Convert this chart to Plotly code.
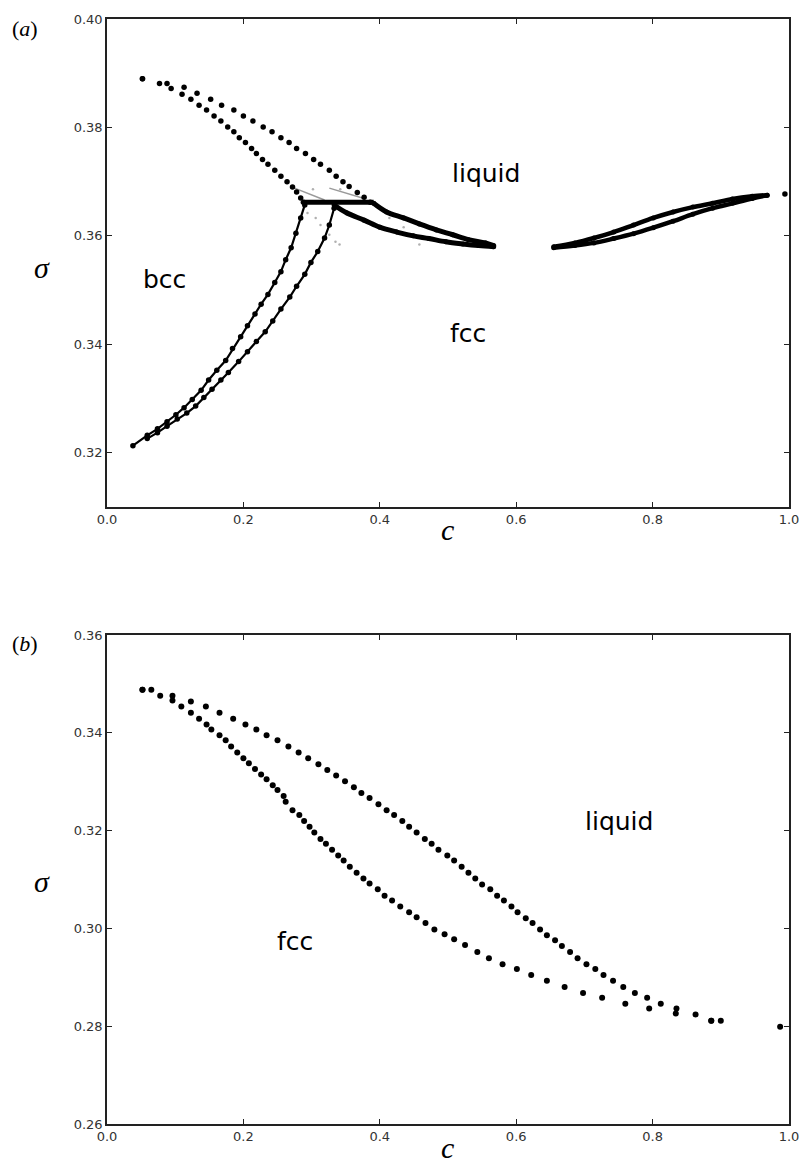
import plotly.graph_objects as go

W, H = 811, 1171
ML, MR, MT, MB = 107, 13, 12, 47

# ---------------- panel (a): bcc / fcc / liquid ----------------
# bcc-liquid coexistence, liquid branch
a_bl_liq_c = [0.052, 0.077, 0.088, 0.113, 0.132, 0.152, 0.168, 0.186, 0.200, 0.214, 0.229,
              0.242, 0.255, 0.267, 0.278, 0.291, 0.303, 0.313, 0.326, 0.336, 0.346, 0.355,
              0.367, 0.377, 0.386]
a_bl_liq_s = [0.3890, 0.3881, 0.3881, 0.3874, 0.3863, 0.3852, 0.3841, 0.3832, 0.3821, 0.3812,
              0.3801, 0.3792, 0.3781, 0.3772, 0.3761, 0.3752, 0.3741, 0.3732, 0.3721, 0.3710,
              0.3700, 0.3691, 0.3680, 0.3671, 0.3662]
# bcc-liquid coexistence, bcc branch
a_bl_bcc_c = [0.052, 0.094, 0.110, 0.123, 0.135, 0.146, 0.157, 0.167, 0.177, 0.186, 0.194,
              0.203, 0.212, 0.219, 0.228, 0.236, 0.246, 0.255, 0.264, 0.272, 0.278, 0.284, 0.288]
a_bl_bcc_s = [0.3890, 0.3872, 0.3861, 0.3852, 0.3841, 0.3832, 0.3821, 0.3812, 0.3801, 0.3792,
              0.3781, 0.3772, 0.3761, 0.3752, 0.3741, 0.3732, 0.3721, 0.3710, 0.3700, 0.3690,
              0.3681, 0.3670, 0.3662]
# three-phase line
a_triple_c = [0.288, 0.391]
a_triple_s = [0.3662, 0.3662]
# bcc-fcc coexistence, bcc branch
a_bf_bcc_c = [0.290, 0.284, 0.277, 0.270, 0.262, 0.255, 0.246, 0.236, 0.226, 0.217, 0.206,
              0.196, 0.184, 0.174, 0.161, 0.149, 0.138, 0.125, 0.113, 0.101, 0.088, 0.074,
              0.059, 0.038]
a_bf_bcc_s = [0.3657, 0.3633, 0.3605, 0.3578, 0.3556, 0.3534, 0.3514, 0.3492, 0.3474, 0.3456,
              0.3434, 0.3414, 0.3392, 0.3370, 0.3352, 0.3334, 0.3315, 0.3298, 0.3283, 0.3270,
              0.3257, 0.3244, 0.3232, 0.3213]
# bcc-fcc coexistence, fcc branch
a_bf_fcc_c = [0.333, 0.326, 0.319, 0.309, 0.299, 0.290, 0.278, 0.268, 0.255, 0.243, 0.232,
              0.219, 0.206, 0.193, 0.178, 0.167, 0.154, 0.142, 0.130, 0.117, 0.103, 0.088,
              0.074, 0.059]
a_bf_fcc_s = [0.3651, 0.3620, 0.3596, 0.3571, 0.3551, 0.3529, 0.3507, 0.3487, 0.3465, 0.3443,
              0.3423, 0.3405, 0.3386, 0.3368, 0.3348, 0.3334, 0.3317, 0.3302, 0.3286, 0.3273,
              0.3262, 0.3249, 0.3237, 0.3226]
# fcc-liquid coexistence (left of the azeotrope), liquid branch
a_fl_liq_c = [0.391, 0.410, 0.435, 0.458, 0.483, 0.507, 0.530, 0.555, 0.567]
a_fl_liq_s = [0.3660, 0.3644, 0.3633, 0.3622, 0.3611, 0.3602, 0.3593, 0.3587, 0.3582]
# fcc-liquid coexistence (left of the azeotrope), fcc branch
a_fl_fcc_c = [0.333, 0.352, 0.377, 0.400, 0.425, 0.449, 0.472, 0.497, 0.522, 0.545, 0.567]
a_fl_fcc_s = [0.3657, 0.3642, 0.3629, 0.3616, 0.3607, 0.3600, 0.3595, 0.3589, 0.3585, 0.3582,
              0.3580]
# fcc-liquid coexistence (right of the azeotrope)
a_r_up_c = [0.655, 0.686, 0.714, 0.743, 0.772, 0.801, 0.830, 0.859, 0.888, 0.917, 0.946, 0.968]
a_r_up_s = [0.3580, 0.3587, 0.3596, 0.3607, 0.3620, 0.3633, 0.3644, 0.3653, 0.3660, 0.3668,
            0.3673, 0.3675]
a_r_lo_c = [0.655, 0.686, 0.714, 0.743, 0.772, 0.801, 0.830, 0.859, 0.888, 0.917, 0.946, 0.968]
a_r_lo_s = [0.3578, 0.3582, 0.3587, 0.3595, 0.3604, 0.3615, 0.3627, 0.3640, 0.3651, 0.3660,
            0.3669, 0.3675]
a_end_c = [0.994]
a_end_s = [0.3677]
# metastable continuations (grey)
a_meta1_c = [0.275, 0.319]
a_meta1_s = [0.3688, 0.3666]
a_meta2_c = [0.326, 0.377]
a_meta2_s = [0.3688, 0.3669]
a_meta_dots_c = [0.302, 0.342, 0.294, 0.306, 0.313, 0.326, 0.335, 0.341, 0.414, 0.435, 0.458]
a_meta_dots_s = [0.3686, 0.3686, 0.3642, 0.3633, 0.3620, 0.3602, 0.3589, 0.3584, 0.3633,
                 0.3616, 0.3584]

# ---------------- panel (b): fcc / liquid ----------------
b_liq_c = [0.052, 0.065, 0.078, 0.096, 0.123, 0.145, 0.165, 0.185, 0.203, 0.219, 0.234, 0.250,
           0.266, 0.281, 0.295, 0.310, 0.323, 0.336, 0.349, 0.362, 0.373, 0.385, 0.398, 0.410,
           0.421, 0.433, 0.443, 0.454, 0.466, 0.476, 0.486, 0.499, 0.509, 0.520, 0.530, 0.540,
           0.550, 0.562, 0.572, 0.582, 0.593, 0.602, 0.614, 0.624, 0.635, 0.645, 0.657, 0.667,
           0.679, 0.690, 0.703, 0.716, 0.728, 0.742, 0.757, 0.774, 0.792, 0.812, 0.835, 0.863,
           0.886, 0.900]
b_liq_s = [0.3488, 0.3488, 0.3476, 0.3476, 0.3464, 0.3454, 0.3441, 0.3429, 0.3417, 0.3407,
           0.3395, 0.3385, 0.3372, 0.3360, 0.3348, 0.3336, 0.3324, 0.3313, 0.3301, 0.3289,
           0.3277, 0.3267, 0.3254, 0.3242, 0.3232, 0.3220, 0.3208, 0.3196, 0.3183, 0.3173,
           0.3161, 0.3149, 0.3139, 0.3126, 0.3114, 0.3102, 0.3090, 0.3080, 0.3067, 0.3057,
           0.3045, 0.3033, 0.3021, 0.3011, 0.2998, 0.2986, 0.2976, 0.2964, 0.2952, 0.2939,
           0.2927, 0.2917, 0.2905, 0.2893, 0.2880, 0.2868, 0.2858, 0.2846, 0.2836, 0.2824,
           0.2811, 0.2811]
b_fcc_c = [0.052, 0.096, 0.109, 0.123, 0.135, 0.146, 0.153, 0.165, 0.174, 0.182, 0.191, 0.200,
           0.208, 0.217, 0.226, 0.234, 0.243, 0.250, 0.259, 0.262, 0.272, 0.282, 0.289, 0.297,
           0.304, 0.313, 0.321, 0.330, 0.339, 0.347, 0.356, 0.366, 0.376, 0.385, 0.397, 0.407,
           0.418, 0.430, 0.443, 0.454, 0.467, 0.480, 0.495, 0.509, 0.525, 0.543, 0.560, 0.580,
           0.601, 0.622, 0.645, 0.671, 0.698, 0.726, 0.760, 0.795, 0.834, 0.886]
b_fcc_s = [0.3488, 0.3466, 0.3454, 0.3441, 0.3429, 0.3417, 0.3407, 0.3395, 0.3385, 0.3372,
           0.3360, 0.3348, 0.3338, 0.3326, 0.3315, 0.3305, 0.3293, 0.3283, 0.3271, 0.3259,
           0.3242, 0.3232, 0.3220, 0.3208, 0.3196, 0.3183, 0.3173, 0.3161, 0.3149, 0.3139,
           0.3126, 0.3114, 0.3102, 0.3092, 0.3080, 0.3067, 0.3057, 0.3045, 0.3033, 0.3023,
           0.3011, 0.2998, 0.2988, 0.2978, 0.2966, 0.2952, 0.2939, 0.2927, 0.2917, 0.2905,
           0.2893, 0.2880, 0.2868, 0.2858, 0.2846, 0.2836, 0.2826, 0.2811]
b_end_c = [0.987]
b_end_s = [0.2799]

x_ticks = [0.0, 0.2, 0.4, 0.6, 0.8, 1.0]
a_y_ticks = [0.32, 0.34, 0.36, 0.38, 0.40]
b_y_ticks = [0.26, 0.28, 0.30, 0.32, 0.34, 0.36]

fig = go.Figure()


def dots(c, s, ax, size=5.5):
    fig.add_trace(go.Scatter(x=c, y=s, mode="markers", marker=dict(color="black", size=size),
                             xaxis="x" + ax, yaxis="y" + ax, hoverinfo="skip"))


def beaded(c, s, ax, width=2.2, size=5.5):
    # densely sampled branch: dots joined by a thin line
    fig.add_trace(go.Scatter(x=c, y=s, mode="lines+markers",
                             line=dict(color="black", width=width),
                             marker=dict(color="black", size=size),
                             xaxis="x" + ax, yaxis="y" + ax, hoverinfo="skip"))


def thick(c, s, ax, width=4):
    fig.add_trace(go.Scatter(x=c, y=s, mode="lines+markers",
                             line=dict(color="black", width=width, shape="spline"),
                             marker=dict(color="black", size=5),
                             xaxis="x" + ax, yaxis="y" + ax, hoverinfo="skip"))


def grey_line(c, s, ax):
    fig.add_trace(go.Scatter(x=c, y=s, mode="lines", line=dict(color="#9a9a9a", width=1.5),
                             xaxis="x" + ax, yaxis="y" + ax, hoverinfo="skip"))


# panel (a) traces
grey_line(a_meta1_c, a_meta1_s, "")
grey_line(a_meta2_c, a_meta2_s, "")
fig.add_trace(go.Scatter(x=a_meta_dots_c, y=a_meta_dots_s, mode="markers",
                         marker=dict(color="#b0b0b0", size=2.5), hoverinfo="skip"))
dots(a_bl_liq_c, a_bl_liq_s, "")
dots(a_bl_bcc_c, a_bl_bcc_s, "")
beaded(a_bf_bcc_c, a_bf_bcc_s, "")
beaded(a_bf_fcc_c, a_bf_fcc_s, "")
fig.add_trace(go.Scatter(x=a_triple_c, y=a_triple_s, mode="lines",
                         line=dict(color="black", width=5), hoverinfo="skip"))
thick(a_fl_liq_c, a_fl_liq_s, "", 5)
thick(a_fl_fcc_c, a_fl_fcc_s, "", 5)
thick(a_r_up_c, a_r_up_s, "", 4.5)
thick(a_r_lo_c, a_r_lo_s, "", 4.5)
dots(a_end_c, a_end_s, "")

# panel (b) traces
dots(b_liq_c, b_liq_s, "2", 6)
dots(b_fcc_c, b_fcc_s, "2", 6)
dots(b_end_c, b_end_s, "2", 6)

plot_h = H - MT - MB
a_bottom = (H - MB - 503) / plot_h
b_top = (H - MB - 632) / plot_h

axis_common = dict(showline=True, linecolor="#222222", linewidth=1.6, mirror="ticks",
                   ticks="inside", ticklen=5, tickwidth=1, tickcolor="#222222",
                   showgrid=False, zeroline=False,
                   tickfont=dict(family="DejaVu Sans", size=13, color="#333333"))

fig.update_layout(
    width=W, height=H, margin=dict(l=ML, r=MR, t=MT, b=MB),
    paper_bgcolor="white", plot_bgcolor="white", showlegend=False,
    xaxis=dict(domain=[0, 1], range=[0, 1], tickvals=x_ticks,
               ticktext=[f"{v:.1f}" for v in x_ticks], anchor="y", **axis_common),
    yaxis=dict(domain=[a_bottom, 1], range=[0.31, 0.40], tickvals=a_y_ticks,
               ticktext=[f"{v:.2f}" for v in a_y_ticks], anchor="x", **axis_common),
    xaxis2=dict(domain=[0, 1], range=[0, 1], tickvals=x_ticks,
                ticktext=[f"{v:.1f}" for v in x_ticks], anchor="y2", **axis_common),
    yaxis2=dict(domain=[0, b_top], range=[0.26, 0.36], tickvals=b_y_ticks,
                ticktext=[f"{v:.2f}" for v in b_y_ticks], anchor="x2", **axis_common),
)


def px_to_paper(px, py):
    return (px - ML) / (W - ML - MR), (H - MB - py) / plot_h


def label(px, py, text, size, family="Liberation Serif"):
    x, y = px_to_paper(px, py)
    fig.add_annotation(x=x, y=y, xref="paper", yref="paper", text=text, showarrow=False,
                       font=dict(family=family, size=size, color="black"),
                       xanchor="center", yanchor="middle")


# axis titles and panel tags
label(452, 526, "<i>c</i>", 30)
label(452, 1148, "<i>c</i>", 30)
label(41, 262, "<i>σ</i>", 30)
label(41, 880, "<i>σ</i>", 30)
label(24, 22, "(<i>a</i>)", 22)
label(24, 640, "(<i>b</i>)", 22)

# phase labels
region_font = dict(family="DejaVu Sans", size=25, color="black")
fig.add_annotation(x=0.556, y=0.3715, xref="x", yref="y", text="liquid", showarrow=False,
                   font=region_font)
fig.add_annotation(x=0.084, y=0.3520, xref="x", yref="y", text="bcc", showarrow=False,
                   font=region_font)
fig.add_annotation(x=0.529, y=0.3420, xref="x", yref="y", text="fcc", showarrow=False,
                   font=region_font)
fig.add_annotation(x=0.750, y=0.3218, xref="x2", yref="y2", text="liquid", showarrow=False,
                   font=region_font)
fig.add_annotation(x=0.276, y=0.2974, xref="x2", yref="y2", text="fcc", showarrow=False,
                   font=region_font)

fig.write_html("out.html")
